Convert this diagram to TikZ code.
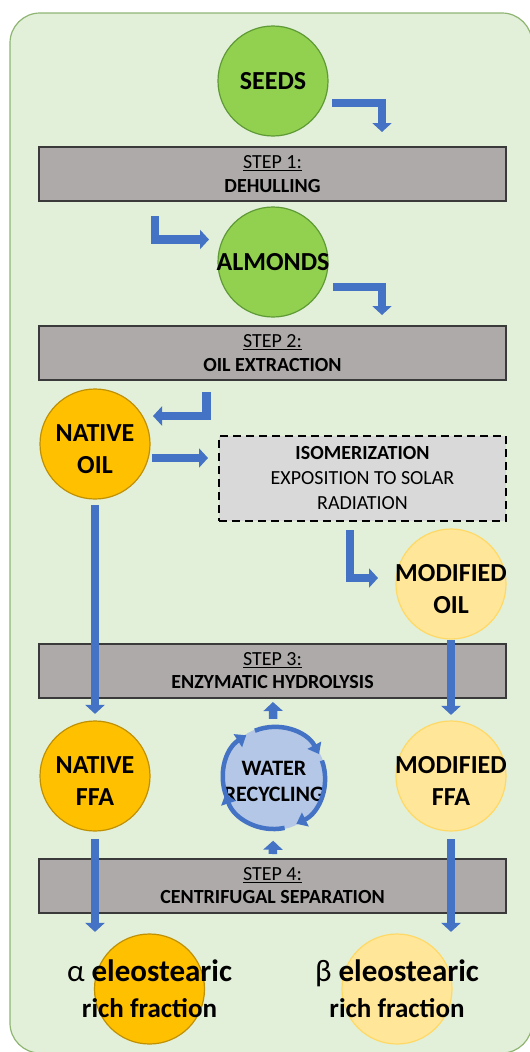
\documentclass[tikz,border=0pt]{standalone}
\usepackage{fontspec}
\setmainfont{Carlito}
\usetikzlibrary{arrows.meta}

\definecolor{panelfill}{HTML}{E2F0D9}
\definecolor{paneledge}{HTML}{8FB573}
\definecolor{seedfill}{HTML}{92D050}
\definecolor{seededge}{HTML}{5E9A35}
\definecolor{stepfill}{HTML}{AEAAAA}
\definecolor{stepedge}{HTML}{3A3A3A}
\definecolor{isofill}{HTML}{D9D9D9}
\definecolor{nativefill}{HTML}{FFC000}
\definecolor{nativeedge}{HTML}{BF9000}
\definecolor{modfill}{HTML}{FFE699}
\definecolor{modedge}{HTML}{FFD966}
\definecolor{waterfill}{HTML}{B4C7E7}
\definecolor{flowblue}{HTML}{4472C4}

\tikzset{
  ball/.style={circle, inner sep=0pt, minimum size=110, line width=1.2pt},
  balltxt/.style={align=center, font=\fontsize{26}{32}\selectfont\bfseries},
  stepbox/.style={rectangle, draw=stepedge, fill=stepfill, line width=2pt,
    minimum width=467, minimum height=54, inner sep=0pt, align=center,
    font=\fontsize{20}{23.5}\selectfont},
  fractxt/.style={align=center, font=\fontsize{31}{36}\selectfont},
  flow/.style={draw=flowblue, line width=8.5pt, line join=miter,
    -{Triangle[width=19pt,length=9pt]}},
  ring/.style={draw=flowblue, line width=4.5pt,
    -{Triangle[width=15pt,length=10pt]}}
}

\begin{document}
\begin{tikzpicture}[x=1pt, y=-1pt]
\useasboundingbox (0,0) rectangle (530,1052);
% panel
\draw[fill=panelfill, draw=paneledge, line width=1.2pt, rounded corners=30]
  (10,13) rectangle (532,1053);

% nodes
\node[ball, draw=seededge, fill=seedfill,
  label={[balltxt]center:SEEDS}] (seeds) at (273,81) {};
\node[stepbox] (step1) at (272.5,174) {\underline{STEP 1:}\\\textbf{DEHULLING}};
\node[ball, draw=seededge, fill=seedfill,
  label={[balltxt]center:ALMONDS}] (almonds) at (273,262) {};
\node[stepbox] (step2) at (272.5,353) {\underline{STEP 2:}\\\textbf{OIL EXTRACTION}};
\node[ball, draw=nativeedge, fill=nativefill,
  label={[balltxt, yshift=-5]center:NATIVE\\OIL}] (noil) at (95,444) {};
\node[rectangle, draw, fill=isofill, dashed, dash pattern=on 8pt off 5pt,
  line width=2pt, minimum width=287, minimum height=85, align=center,
  font=\fontsize{20}{25}\selectfont] (iso) at (362.5,478.5)
  {\textbf{ISOMERIZATION}\\EXPOSITION TO SOLAR\\RADIATION};
\node[ball, draw=modedge, fill=modfill,
  label={[balltxt, yshift=-5]center:MODIFIED\\OIL}] (moil) at (451,584) {};
\node[stepbox] (step3) at (272.5,670.5) {\underline{STEP 3:}\\\textbf{ENZYMATIC HYDROLYSIS}};
\node[ball, draw=nativeedge, fill=nativefill,
  label={[balltxt, yshift=-5]center:NATIVE\\FFA}] (nffa) at (95,776) {};
\node[circle, inner sep=0pt, minimum size=104, fill=waterfill,
  label={[balltxt, font=\fontsize{22}{26}\selectfont\bfseries, yshift=-3]center:WATER\\RECYCLING}]
  (water) at (274,778) {};
\node[ball, draw=modedge, fill=modfill,
  label={[balltxt, yshift=-5]center:MODIFIED\\FFA}] (mffa) at (451,776) {};
\node[stepbox] (step4) at (272.5,885.5) {\underline{STEP 4:}\\\textbf{CENTRIFUGAL SEPARATION}};
\node[ball, draw=nativeedge, fill=nativefill] (alpha) at (149.5,989) {};
\node[ball, draw=modedge, fill=modfill] (beta) at (397,989) {};
\node[fractxt] (alphatxt) at (alpha)
  {α \textbf{eleostearic}\\{\fontsize{27}{36}\selectfont\textbf{rich fraction}}};
\node[fractxt] (betatxt) at (beta)
  {β \textbf{eleostearic}\\{\fontsize{27}{36}\selectfont\textbf{rich fraction}}};

% free ends of the bent arrows
\coordinate (seedsout) at (332,103);
\coordinate (step1in) at (382,132);
\coordinate (step1out) at (155,216);
\coordinate (almondsin) at (209,239.5);
\coordinate (almondsout) at (333,287);
\coordinate (step2in) at (382,315);
\coordinate (step2out) at (206.5,392);
\coordinate (noilin) at (153,416);
\coordinate (isoout) at (350,530);
\coordinate (moilin) at (378,578);

% arrows
\draw[flow] (seedsout) -| (step1in);
\draw[flow] (step1out) |- (almondsin);
\draw[flow] (almondsout) -| (step2in);
\draw[flow] (step2out) |- (noilin);
\draw[flow, shorten <=1.5pt, shorten >=10pt] (noil.east |- 0,458) -- (iso.west |- 0,458);
\draw[flow] (isoout) |- (moilin);
\draw[flow, shorten <=5.5pt, shorten >=6.5pt] (noil) -- (nffa);
\draw[flow, shorten >=5.5pt] (moil) -- (mffa);
\draw[flow, shorten <=7pt, shorten >=3.5pt] (water) -- (step3);
\draw[flow, shorten <=3.5pt, shorten >=10.5pt] (step4) -- (water);
\draw[flow, shorten <=7.5pt, shorten >=1.5pt] (nffa.south) -- (nffa.south |- alpha.north);
\draw[flow, shorten <=7.5pt, shorten >=1.5pt] (mffa.south) -- (mffa.south |- beta.north);

% recycling ring
\foreach \e in {64,162,237,332}
  \draw[ring] ([shift={(\e-84:51)}]water.center) arc[start angle=\e-84, end angle=\e, radius=51];
\end{tikzpicture}
\end{document}
